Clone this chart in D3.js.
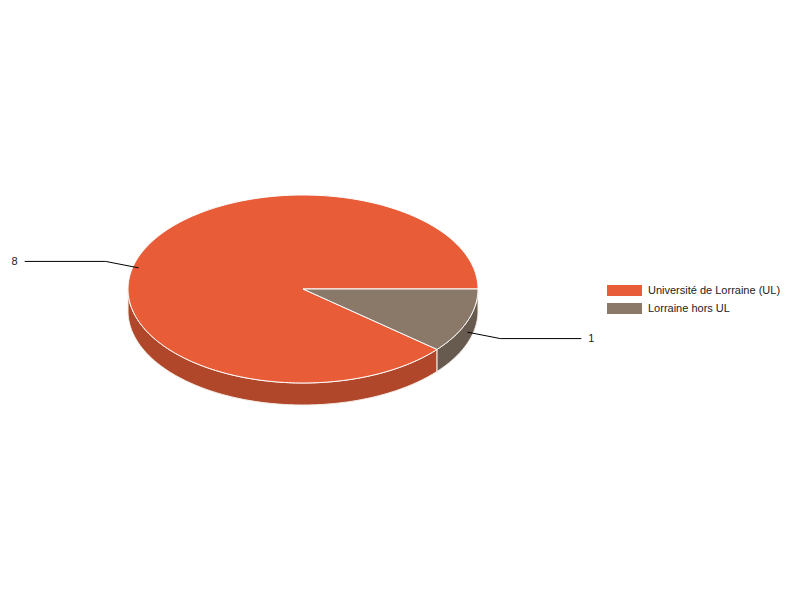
<!DOCTYPE html>
<html>
<head>
<meta charset="utf-8">
<script src="https://cdn.jsdelivr.net/npm/d3@7"></script>
<style>
  body { margin: 0; background: #fff; }
  svg { display: block; font-family: "Liberation Sans", Arial, sans-serif; }
</style>
</head>
<body>
<div id="chart"></div>
<script>
// values
const categories = ["Université de Lorraine (UL)", "Lorraine hors UL"];
const counts = [8, 1];
const topColors = ["#e85d37", "#8a7869"];
const sideColors = ["#b0462a", "#675a4f"];

const width = 800, height = 600;
const cx = 303, cy = 289, rx = 175, ry = 94, depth = 22;

const svg = d3.select("#chart").append("svg")
  .attr("width", width)
  .attr("height", height);

const data = categories.map((c, i) => ({ name: c, value: counts[i], i }));

// counter-clockwise from 3 o'clock, d3 angle convention (0 = 12 o'clock)
const pie = d3.pie()
  .value(d => d.value)
  .sort(null)
  .startAngle(Math.PI / 2)
  .endAngle(Math.PI / 2 - 2 * Math.PI);

const arcs = pie(data);

const px = a => cx + rx * Math.sin(a);
const py = a => cy - ry * Math.cos(a);

function sampleAngles(a0, a1) {
  const n = Math.max(2, Math.ceil(Math.abs(a1 - a0) / 0.02));
  return d3.range(n + 1).map(k => a0 + (a1 - a0) * k / n);
}

function topPath(d) {
  const pts = sampleAngles(d.startAngle, d.endAngle).map(a => [px(a), py(a)]);
  return "M" + cx + "," + cy + "L" + pts.map(p => p.join(",")).join("L") + "Z";
}

// normalise to [0, 2PI)
const norm = a => ((a % (2 * Math.PI)) + 2 * Math.PI) % (2 * Math.PI);

function sidePath(d) {
  let lo = Math.min(d.startAngle, d.endAngle);
  let hi = Math.max(d.startAngle, d.endAngle);
  // shift so that lo is in [0, 2PI)
  const shift = norm(lo) - lo;
  lo += shift; hi += shift;
  const segs = [];
  // front half: PI/2 .. 3PI/2 (and repeated +2PI)
  [[Math.PI / 2, 3 * Math.PI / 2], [5 * Math.PI / 2, 7 * Math.PI / 2]].forEach(([f0, f1]) => {
    const a0 = Math.max(lo, f0), a1 = Math.min(hi, f1);
    if (a1 > a0) segs.push([a0, a1]);
  });
  return segs.map(([a0, a1]) => {
    const topPts = sampleAngles(a0, a1).map(a => [px(a), py(a)]);
    const botPts = sampleAngles(a1, a0).map(a => [px(a), py(a) + depth]);
    return "M" + topPts.concat(botPts).map(p => p.join(",")).join("L") + "Z";
  }).join("");
}

const g = svg.append("g");

g.selectAll("path.side")
  .data(arcs)
  .enter().append("path")
  .attr("class", "side")
  .attr("d", sidePath)
  .attr("fill", d => sideColors[d.data.i])
  .attr("stroke", "#f4eee8")
  .attr("stroke-width", 1);

g.selectAll("path.top")
  .data(arcs)
  .enter().append("path")
  .attr("class", "top")
  .attr("d", topPath)
  .attr("fill", d => topColors[d.data.i])
  .attr("stroke", "#fff")
  .attr("stroke-width", 1)
  .attr("stroke-linejoin", "round");

// leader lines and value labels
const labels = svg.append("g");
arcs.forEach(d => {
  const mid = (d.startAngle + d.endAngle) / 2;
  const ax = px(mid), ay = py(mid) + depth / 2;
  const ox = cx, oy = cy + depth / 2;
  const ex = ox + (ax - ox) * 1.2, ey = oy + (ay - oy) * 1.2;
  const right = ax > cx;
  const hx = ex + (right ? 81 : -81);

  labels.append("path")
    .attr("d", `M${ax},${ay}L${ex},${ey}L${hx},${ey}`)
    .attr("fill", "none")
    .attr("stroke", "#000")
    .attr("stroke-width", 1);

  labels.append("text")
    .attr("x", hx + (right ? 7 : -7))
    .attr("y", ey)
    .attr("dy", "0.35em")
    .attr("text-anchor", right ? "start" : "end")
    .style("font-size", "11px")
    .style("fill", "#222")
    .text(d.data.value);
});

// legend
const legend = svg.append("g").attr("transform", "translate(607,285)");
const item = legend.selectAll("g")
  .data(data)
  .enter().append("g")
  .attr("transform", (d, i) => `translate(0,${i * 18})`);

item.append("rect")
  .attr("width", 35)
  .attr("height", 11)
  .attr("fill", d => topColors[d.i]);

item.append("text")
  .attr("x", 41)
  .attr("y", 5.5)
  .attr("dy", "0.35em")
  .style("font-size", "11px")
  .style("fill", "#222")
  .text(d => d.name);
</script>
</body>
</html>
